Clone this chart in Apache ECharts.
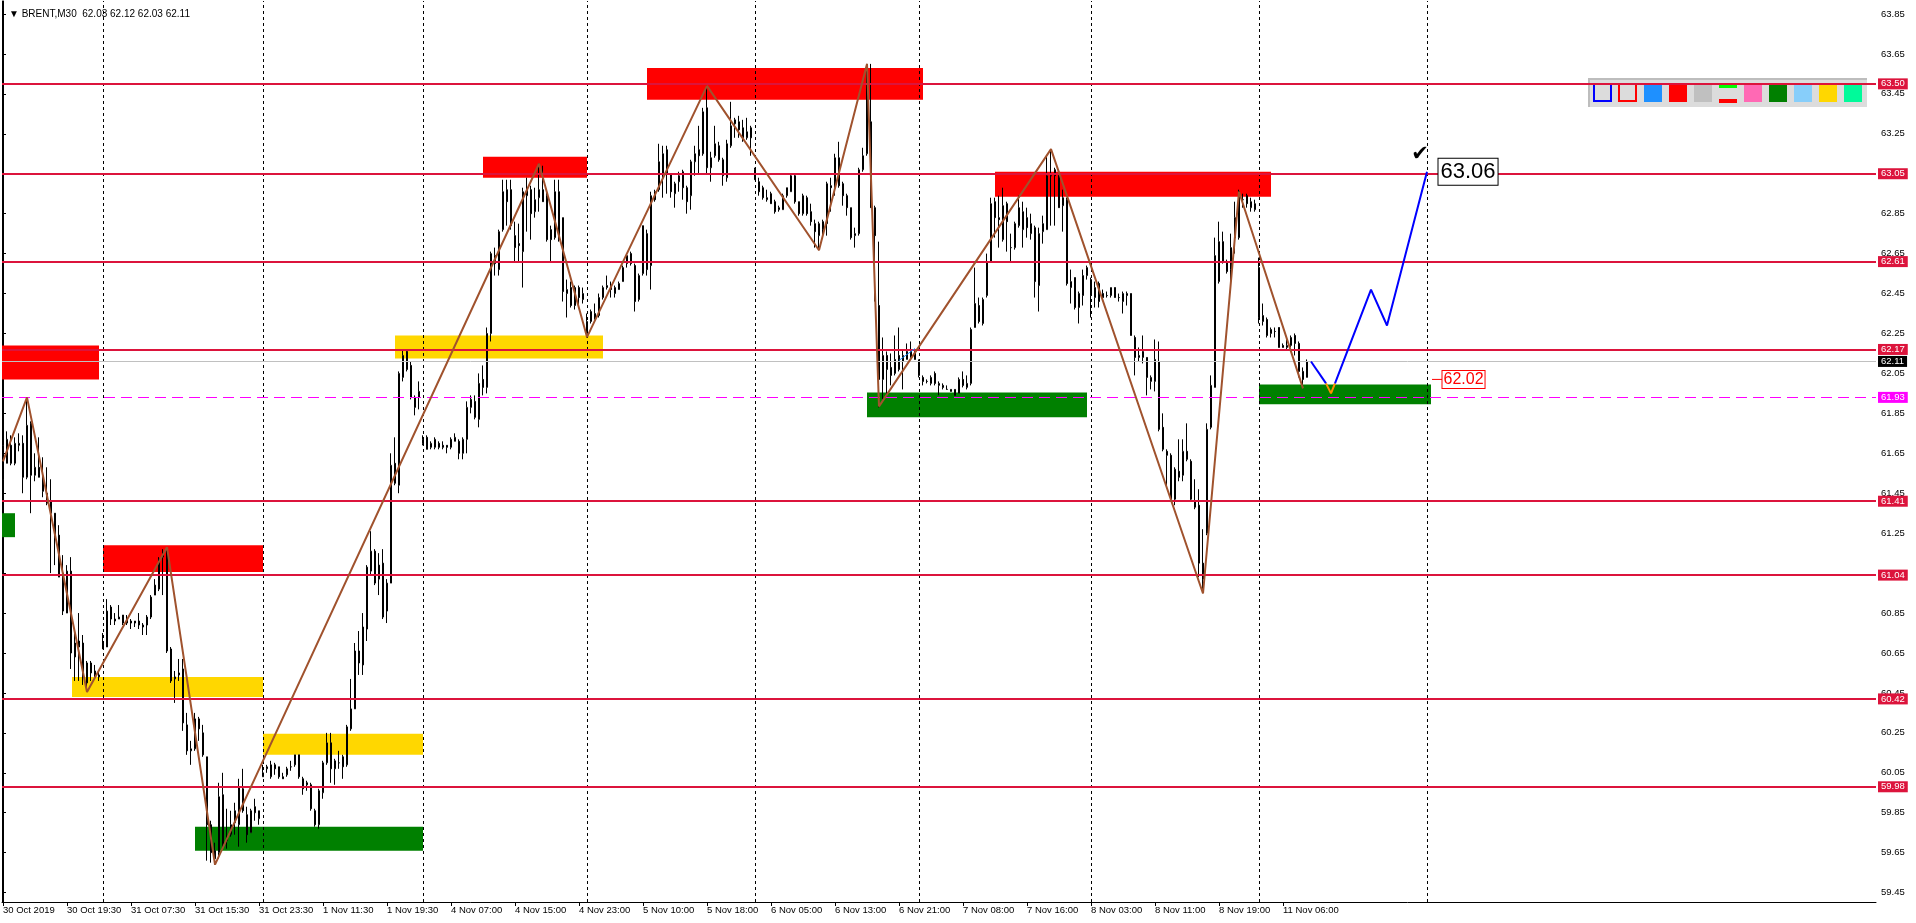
<!DOCTYPE html>
<html><head><meta charset="utf-8">
<script src="https://cdn.jsdelivr.net/npm/echarts@6/dist/echarts.min.js"></script>
<style>html,body{margin:0;padding:0;background:#fff}#c{width:1916px;height:923px}</style>
</head><body><div id="c"></div>
<script>
// ---- DATA (BRENT M30, bar index = position on the time axis) ----
const opens=[
61.52,61.60,61.69,61.60,61.69,61.70,61.53,61.80,61.54,61.58,
61.53,61.45,61.41,61.35,61.24,61.05,60.85,61.06,60.63,60.71,
60.70,60.50,60.60,60.56,60.53,60.67,60.68,60.88,60.82,60.82,
60.84,60.80,60.81,60.81,60.81,60.78,60.79,60.83,60.94,60.97,
61.13,61.16,60.67,60.52,60.54,60.57,60.29,60.16,60.17,60.32,
60.25,60.13,59.79,59.66,59.65,59.94,59.72,59.74,59.80,59.79,
59.97,59.84,59.75,59.88,59.82,60.03,60.07,60.03,60.09,60.08,
60.03,60.04,60.08,60.09,60.14,60.02,60.00,59.99,59.86,59.79,
59.95,60.10,60.20,60.07,60.10,60.13,60.09,60.27,60.37,60.66,
60.59,60.77,61.06,61.16,61.09,61.10,60.86,61.00,61.60,61.49,
62.03,62.16,62.09,61.93,61.93,61.70,61.73,61.68,61.68,61.70,
61.69,61.69,61.68,61.71,61.71,61.65,61.72,61.88,61.91,61.82,
62.02,61.98,62.25,62.64,62.57,62.77,62.97,62.97,62.74,62.70,
62.66,62.94,62.97,62.86,62.93,62.97,62.94,62.77,62.73,62.96,
62.83,62.45,62.48,62.39,62.48,62.42,62.25,62.31,62.32,62.34,
62.43,62.48,62.49,62.45,62.47,62.51,62.60,62.65,62.59,62.42,
62.55,62.75,62.59,62.96,62.97,63.05,63.17,63.05,62.95,63.01,
63.06,62.98,62.94,63.11,63.17,63.15,63.38,63.08,63.14,63.19,
63.12,63.03,63.19,63.30,63.31,63.28,63.23,63.28,63.07,63.01,
62.98,62.92,62.95,62.91,62.87,62.87,62.94,62.96,63.04,62.91,
62.85,62.93,62.86,62.80,62.74,62.81,62.80,62.99,62.98,63.13,
63.00,62.94,62.88,62.74,62.75,63.07,63.15,63.31,62.88,62.39,
62.02,62.14,62.08,62.05,62.14,62.11,62.12,62.13,62.16,62.11,
62.03,62.01,62.00,62.05,61.99,61.99,61.97,61.97,61.97,61.95,
62.02,61.98,62.00,62.28,62.39,62.30,62.44,62.61,62.91,62.83,
62.72,62.90,62.68,62.68,62.79,62.77,62.83,62.75,62.78,62.49,
62.76,62.77,63.04,63.07,63.04,62.89,62.92,62.48,62.53,62.38,
62.44,62.54,62.52,62.43,62.50,62.45,62.44,62.44,62.48,62.43,
62.41,62.44,62.45,62.23,62.13,62.13,62.13,62.01,62.01,62.11,
61.78,61.66,61.64,61.42,61.56,61.54,61.66,61.61,61.41,61.39,
61.10,61.25,61.78,61.98,62.51,62.71,62.61,62.57,62.73,62.73,
62.92,62.94,62.88,62.87,62.58,62.31,62.32,62.25,62.26,62.28,
62.19,62.18,62.19,62.24,62.20,62.06,62.03];
const highs=[
61.72,61.76,61.74,61.73,61.75,61.74,61.93,61.81,61.65,61.73,
61.63,61.58,61.52,61.35,61.29,61.14,61.09,61.13,60.75,60.85,
60.74,60.61,60.61,60.59,60.56,60.75,60.92,60.89,60.85,60.89,
60.84,60.84,60.82,60.81,60.85,60.80,60.84,60.94,61.02,61.13,
61.17,61.18,60.68,60.56,60.62,60.62,60.35,60.21,60.35,60.33,
60.29,60.13,59.81,59.70,60.00,60.05,59.87,59.86,59.90,60.02,
60.07,59.88,59.87,59.92,59.86,60.09,60.09,60.11,60.10,60.08,
60.05,60.08,60.11,60.14,60.14,60.03,60.01,60.00,59.87,59.97,
60.11,60.25,60.25,60.12,60.16,60.14,60.29,60.52,60.70,60.76,
60.85,61.09,61.26,61.17,61.15,61.17,61.02,61.65,61.73,62.06,
62.17,62.17,62.11,61.94,62.01,61.74,61.74,61.71,61.73,61.71,
61.71,61.69,61.73,61.75,61.72,61.73,61.91,61.94,61.94,62.05,
62.09,62.28,62.66,62.68,62.77,63.02,63.02,63.02,62.81,62.80,
62.98,63.03,62.99,62.98,63.10,63.09,62.96,62.79,63.02,63.02,
62.83,62.52,62.51,62.49,62.49,62.48,62.35,62.37,62.40,62.45,
62.49,62.54,62.51,62.49,62.51,62.59,62.65,62.66,62.60,62.55,
62.79,62.77,62.96,62.97,63.20,63.19,63.19,63.05,63.01,63.06,
63.07,62.99,63.12,63.19,63.29,63.38,63.49,63.16,63.29,63.21,
63.13,63.22,63.41,63.33,63.34,63.32,63.33,63.29,63.08,63.03,
62.99,62.97,62.96,62.92,62.89,62.95,62.98,63.05,63.05,62.91,
62.95,62.94,62.90,62.82,62.81,62.82,63.01,63.03,63.15,63.21,
63.01,62.95,62.88,62.78,63.08,63.18,63.60,63.60,62.89,62.71,
62.23,62.16,62.15,62.24,62.28,62.17,62.20,62.21,62.17,62.12,
62.04,62.02,62.04,62.06,62.01,62.00,61.99,61.97,61.97,62.03,
62.06,62.04,62.28,62.58,62.43,62.43,62.65,62.93,62.93,62.94,
62.98,62.91,62.75,62.81,62.94,62.91,62.88,62.85,62.79,62.78,
62.84,63.14,63.17,63.08,63.06,62.97,62.93,62.57,62.53,62.46,
62.57,62.59,62.53,62.51,62.51,62.47,62.46,62.48,62.48,62.45,
62.46,62.46,62.45,62.24,62.18,62.24,62.13,62.04,62.22,62.21,
61.85,61.67,61.65,61.58,61.72,61.72,61.80,61.62,61.52,61.47,
61.27,61.80,62.04,62.73,62.81,62.76,62.62,62.75,62.91,62.97,
62.95,62.95,62.93,62.92,62.63,62.40,62.33,62.28,62.28,62.28,
62.20,62.22,62.24,62.25,62.21,62.08,62.12];
const lows=[
61.46,61.60,61.59,61.59,61.66,61.45,61.52,61.35,61.51,61.53,
61.43,61.39,61.05,61.09,61.03,60.84,60.85,60.57,60.51,60.51,
60.49,60.455,60.51,60.53,60.51,60.67,60.68,60.79,60.79,60.82,
60.79,60.79,60.77,60.78,60.77,60.74,60.74,60.82,60.94,60.96,
60.94,60.65,60.50,60.40,60.51,60.26,60.14,60.09,60.16,60.21,
60.13,59.61,59.60,59.59,59.62,59.67,59.67,59.73,59.74,59.68,
59.85,59.70,59.75,59.81,59.79,60.03,60.05,60.02,60.04,60.02,
60.02,60.03,60.06,60.08,60.02,59.94,59.96,59.86,59.78,59.77,
59.92,60.09,60.00,59.99,60.07,60.02,60.08,60.26,60.37,60.54,
60.54,60.71,61.04,60.99,60.94,60.82,60.80,61.00,61.49,61.45,
62.01,62.06,61.92,61.84,61.87,61.69,61.67,61.67,61.67,61.67,
61.67,61.65,61.67,61.71,61.62,61.62,61.65,61.85,61.82,61.78,
61.94,61.95,62.21,62.54,62.54,62.76,62.79,62.77,62.61,62.61,
62.48,62.76,62.72,62.83,62.86,62.91,62.71,62.61,62.72,62.71,
62.41,62.33,62.38,62.37,62.39,62.40,62.23,62.30,62.32,62.33,
62.42,62.47,62.43,62.43,62.47,62.51,62.58,62.59,62.36,62.41,
62.54,62.54,62.47,62.91,62.96,62.93,62.95,62.93,62.88,62.96,
62.92,62.85,62.87,63.04,63.05,63.14,63.05,63.01,63.13,63.11,
62.99,63.01,63.18,63.23,63.23,63.21,63.22,63.14,63.02,62.94,
62.92,62.91,62.90,62.85,62.86,62.87,62.93,62.96,62.90,62.84,
62.84,62.84,62.79,62.68,62.667,62.73,62.74,62.86,62.94,62.98,
62.89,62.84,62.72,62.68,62.74,63.06,63.14,62.88,62.41,61.88,
61.92,61.93,61.99,62.04,62.06,61.97,62.12,62.12,62.12,62.03,
61.99,62.00,61.99,61.99,61.94,61.97,61.97,61.96,61.94,61.95,
61.98,61.97,61.99,62.28,62.30,62.29,62.43,62.61,62.73,62.68,
62.71,62.66,62.61,62.67,62.78,62.68,62.73,62.72,62.43,62.36,
62.70,62.77,62.79,62.79,62.88,62.76,62.49,62.40,62.37,62.30,
62.39,62.52,62.33,62.38,62.38,62.42,62.43,62.43,62.43,62.41,
62.35,62.39,62.24,62.04,62.11,62.10,61.94,61.97,61.96,61.76,
61.66,61.49,61.42,61.39,61.51,61.51,61.61,61.41,61.37,61.03,
60.95,61.24,61.77,61.98,62.50,62.60,62.55,62.51,62.65,62.72,
62.88,62.88,62.86,62.86,62.30,62.29,62.23,62.23,62.23,62.18,
62.18,62.17,62.18,62.14,62.03,61.98,62.03];
const closes=[
61.69,61.72,61.60,61.70,61.70,61.53,61.79,61.54,61.58,61.53,
61.46,61.40,61.35,61.23,61.03,60.86,61.06,60.65,60.70,60.68,
60.54,60.60,60.55,60.54,60.54,60.70,60.86,60.82,60.81,60.83,
60.80,60.82,60.80,60.80,60.79,60.79,60.83,60.93,60.99,61.12,
61.15,60.66,60.51,60.53,60.55,60.30,60.16,60.17,60.32,60.27,
60.14,59.79,59.65,59.62,59.93,59.69,59.71,59.79,59.86,59.98,
59.86,59.74,59.86,59.85,59.86,60.05,60.08,60.09,60.07,60.03,
60.02,60.07,60.08,60.14,60.03,59.97,59.99,59.87,59.79,59.96,
60.10,60.20,60.07,60.11,60.10,60.08,60.28,60.37,60.66,60.60,
60.78,61.08,61.16,61.00,61.02,60.83,61.00,61.59,61.50,62.05,
62.14,62.07,61.93,61.88,61.96,61.72,61.67,61.70,61.72,61.68,
61.68,61.68,61.72,61.73,61.65,61.72,61.88,61.92,61.83,62.00,
61.98,62.25,62.65,62.60,62.76,62.96,62.91,62.79,62.68,62.69,
62.96,62.97,62.85,62.92,62.97,62.91,62.72,62.72,62.96,62.72,
62.46,62.47,62.39,62.48,62.43,62.45,62.31,62.36,62.35,62.43,
62.48,62.49,62.47,62.48,62.50,62.58,62.64,62.60,62.41,62.54,
62.79,62.57,62.94,62.92,63.11,63.15,63.05,62.96,63.00,63.04,
62.98,62.91,63.11,63.15,63.14,63.36,63.08,63.13,63.20,63.12,
63.04,63.20,63.29,63.32,63.27,63.23,63.26,63.23,63.02,62.96,
62.93,62.93,62.90,62.86,62.88,62.94,62.98,63.04,62.91,62.85,
62.94,62.85,62.81,62.76,62.80,62.77,63.00,62.98,63.13,62.99,
62.94,62.88,62.73,62.75,63.07,63.14,63.58,62.88,62.74,62.02,
62.14,62.07,62.04,62.12,62.07,62.14,62.16,62.17,62.12,62.04,
62.01,62.01,62.03,62.00,62.00,61.98,61.97,61.96,61.94,62.02,
61.99,62.00,62.27,62.40,62.31,62.42,62.61,62.90,62.83,62.82,
62.89,62.81,62.68,62.80,62.88,62.86,62.78,62.80,62.51,62.75,
62.80,63.04,63.04,63.04,62.88,62.93,62.50,62.51,62.38,62.45,
62.54,62.58,62.44,62.48,62.41,62.43,62.44,62.48,62.43,62.43,
62.45,62.45,62.24,62.13,62.14,62.16,62.03,62.03,62.12,61.77,
61.67,61.64,61.42,61.57,61.53,61.66,61.62,61.42,61.38,61.10,
61.02,61.77,61.99,62.64,62.71,62.61,62.56,62.68,62.83,62.96,
62.92,62.90,62.91,62.90,62.33,62.34,62.24,62.27,62.26,62.18,
62.18,62.19,62.23,62.20,62.06,62.02,62.11];

const timeLabelBars=[0,16,32,48,64,80,96,112,128,144,160,176,192,208,224,240,256,272,288,304,320];
const timeLabels=["30 Oct 2019","30 Oct 19:30","31 Oct 07:30","31 Oct 15:30","31 Oct 23:30","1 Nov 11:30","1 Nov 19:30",
"4 Nov 07:00","4 Nov 15:00","4 Nov 23:00","5 Nov 10:00","5 Nov 18:00","6 Nov 05:00","6 Nov 13:00","6 Nov 21:00",
"7 Nov 08:00","7 Nov 16:00","8 Nov 03:00","8 Nov 11:00","8 Nov 19:00","11 Nov 06:00"];
const priceTicks=[59.45,59.65,59.85,60.05,60.25,60.45,60.65,60.85,61.05,61.25,61.45,61.65,61.85,62.05,62.25,62.45,62.65,62.85,63.05,63.25,63.45,63.65,63.85];
const levels=[63.50,63.05,62.61,62.17,61.41,61.04,60.42,59.98];
const bidPrice=62.11;
const dashedLevel=61.93;
const daySeparators=[25,65,105,146,188,229,272,314,356];
const zigzag=[[0,61.61],[6,61.93],[21,60.455],[41,61.18],[53,59.59],[134,63.10],[146,62.232],[176,63.49],[204,62.667],[216,63.60],[219,61.885],[262,63.173],[300,60.948],[309,62.96],[325,61.975]];
const zoneStart=[-0.25,-0.25,25,17.25,65,48,98,120,161,216,248,314];
const zoneEnd=[24,3,65,65,105,105,150,146,230,271,317,357];
const zoneLow=[62.02,61.23,61.055,60.43,60.14,59.66,62.125,63.03,63.42,61.83,62.935,61.895];
const zoneHigh=[62.19,61.35,61.19,60.53,60.245,59.78,62.24,63.135,63.58,61.955,63.06,61.995];
const zoneType=['supply','demand','supply','pivot','pivot','demand','pivot','supply','supply','demand','supply','demand'];
const projA=[[327,62.11],[330.75,62.0]];
const projDip=[[330.75,62.0],[332,61.95],[333,62.0]];
const projB=[[333,62.0],[342,62.47],[346,62.29],[356,63.06]];
const smallTrend=[[224,62.115],[228,62.175]];
const entryMark=[[357.25,62.02],[359.75,62.02]];

// ---- CHART ----
const FONT='Liberation Sans';
const zoneColor={supply:'#FF0000',demand:'#008000',pivot:'#FFD700'};
const labelMap={}; timeLabelBars.forEach((b,k)=>labelMap[b]=timeLabels[k]);
const last=opens.length-1;
const candles=opens.map((o,i)=>[i,o,closes[i],lows[i],highs[i]]);
const targetPt=projB[projB.length-1];
const entryPt=entryMark[entryMark.length-1];

const tag=(bg,fg)=>({show:true,position:'end',distance:2,formatter:p=>Number(p.value).toFixed(2),
  backgroundColor:bg,color:fg,fontFamily:FONT,fontSize:9.5,lineHeight:10,padding:[1,3,0,3]});

const chart=echarts.init(document.getElementById('c'),null,{renderer:'canvas',width:1916,height:923});
const swatches=['#1E90FF','#FF0000','#C0C0C0',null,'#FF69B4','#008000','#87CEFA','#FFD700','#00FA9A'];
const graphics=[
  {type:'rect',shape:{x:1588,y:78,width:279,height:29},style:{fill:'#DCDCDC'},z:0},
  {type:'rect',shape:{x:1588,y:78,width:279,height:2},style:{fill:'#BDBDBD'},z:0},
  {type:'rect',shape:{x:1588,y:78,width:2,height:29},style:{fill:'#BDBDBD'},z:0},
  {type:'rect',shape:{x:1594,y:84,width:17,height:17},style:{fill:'#DCDCDC',stroke:'#0000FF',lineWidth:2},z:0},
  {type:'rect',shape:{x:1619,y:84,width:17,height:17},style:{fill:'#DCDCDC',stroke:'#FF0000',lineWidth:2},z:0}
];
swatches.forEach((c,k)=>{
  const x=1644+25*k;
  if(c){graphics.push({type:'rect',shape:{x:x,y:84,width:18,height:18},style:{fill:c},z:0});}
  else{
    graphics.push({type:'rect',shape:{x:x,y:84,width:18,height:4},style:{fill:'#00FF00'},z:0});
    graphics.push({type:'rect',shape:{x:x,y:99,width:18,height:4},style:{fill:'#FF0000'},z:0});
  }
});

const option={
  animation:false,
  backgroundColor:'#FFFFFF',
  title:{text:'▼ BRENT,M30  '+opens[last].toFixed(2)+' '+highs[last].toFixed(2)+' '+lows[last].toFixed(2)+' '+closes[last].toFixed(2),
    left:4,top:4,textStyle:{fontFamily:FONT,fontSize:10,fontWeight:'normal',color:'#000'}},
  graphic:graphics,
  grid:{left:2,right:40,top:1,bottom:21,show:false},
  xAxis:{type:'value',min:-0.25,max:468.25,
    axisLine:{show:true,onZero:false,lineStyle:{color:'#000',width:1}},
    axisTick:{show:true,customValues:timeLabelBars,length:4,lineStyle:{color:'#000'}},
    axisLabel:{show:true,customValues:timeLabelBars,formatter:v=>labelMap[v]||'',align:'left',margin:3,
      fontFamily:FONT,fontSize:9.5,color:'#000'},
    splitLine:{show:false}},
  yAxis:[{type:'value',position:'right',min:59.403,max:63.915,scale:true,
    axisLine:{show:true,lineStyle:{color:'#000',width:1}},
    axisTick:{show:true,customValues:priceTicks,length:3,lineStyle:{color:'#000'}},
    axisLabel:{show:true,customValues:priceTicks,formatter:v=>v.toFixed(2),margin:5,fontFamily:FONT,fontSize:9.5,color:'#000'},
    splitLine:{show:false}},
   {type:'value',position:'left',min:59.403,max:63.915,
    axisLine:{show:true,lineStyle:{color:'#000',width:1}},axisTick:{show:false},axisLabel:{show:false},splitLine:{show:false}}],
  series:[
    {type:'line',data:[],z:1,silent:true,
     markArea:{silent:true,label:{show:false},
       data:zoneStart.map((s,k)=>[{xAxis:s,yAxis:zoneHigh[k],itemStyle:{color:zoneColor[zoneType[k]],opacity:1,borderWidth:0}},{xAxis:zoneEnd[k],yAxis:zoneLow[k]}])}},
    {type:'candlestick',data:candles,encode:{x:0,y:[1,2,3,4]},barWidth:2,z:2,silent:true,
     itemStyle:{color:'#FFFFFF',color0:'#000000',borderColor:'#000000',borderColor0:'#000000',borderWidth:1}},
    {type:'line',data:[],z:3,silent:true,
     markLine:{silent:true,symbol:['none','none'],label:{show:false},
       lineStyle:{color:'#000',width:1,type:[3,3]},
       data:daySeparators.map(v=>({xAxis:v}))}},
    {type:'line',data:[],z:4,silent:true,
     markLine:{silent:true,symbol:['none','none'],
       data:[{yAxis:bidPrice,lineStyle:{color:'#C0C0C0',width:1,type:'solid'},label:tag('#000000','#FFFFFF')}]}},
    {type:'line',data:[],z:4,silent:true,
     markLine:{silent:true,symbol:['none','none'],
       data:[{yAxis:dashedLevel,lineStyle:{color:'#FF00FF',width:1,type:[11,6]},label:tag('#FF00FF','#FFFFFF')}]}},
    {type:'line',data:[],z:5,silent:true,
     markLine:{silent:true,symbol:['none','none'],
       lineStyle:{color:'#DC143C',width:2,type:'solid'},label:tag('#DC143C','#FFFFFF'),
       data:levels.map(v=>({yAxis:v}))}},
    {type:'line',data:smallTrend,symbol:'none',z:6,silent:true,lineStyle:{color:'#1E90FF',width:1}},
    {type:'line',data:zigzag,symbol:'none',z:7,silent:true,lineStyle:{color:'#A0522D',width:2}},
    {type:'line',data:projA,symbol:'none',z:7,silent:true,lineStyle:{color:'#0000FF',width:2}},
    {type:'line',data:projDip,symbol:'none',z:7,silent:true,lineStyle:{color:'#FF8C00',width:2}},
    {type:'line',data:projB,z:7,silent:true,symbol:'none',lineStyle:{color:'#0000FF',width:2},
     markPoint:{silent:true,symbol:'rect',symbolSize:1,itemStyle:{color:'rgba(0,0,0,0)'},
       data:[
         {coord:targetPt,label:{show:true,position:'right',distance:11,formatter:targetPt[1].toFixed(2),
           fontFamily:FONT,fontSize:22,color:'#000',backgroundColor:'#FFFFFF',borderColor:'#000',borderWidth:1,padding:[3,2,1,2]}},
         {coord:targetPt,label:{show:true,position:'inside',formatter:'✔',offset:[-7,-17],fontSize:21,color:'#000',fontFamily:'DejaVu Sans'}}
       ]}},
    {type:'line',data:entryMark,z:7,silent:true,symbol:'none',lineStyle:{color:'#FF0000',width:1},
     markPoint:{silent:true,symbol:'rect',symbolSize:1,itemStyle:{color:'rgba(0,0,0,0)'},
       data:[{coord:entryPt,label:{show:true,position:'right',distance:0,formatter:entryPt[1].toFixed(2),
         fontFamily:FONT,fontSize:16,color:'#FF0000',backgroundColor:'#FFFFFF',borderColor:'#FF0000',borderWidth:1,padding:[1,1,0,1]}}]}}
  ]
};
chart.setOption(option);
</script>
</body></html>
